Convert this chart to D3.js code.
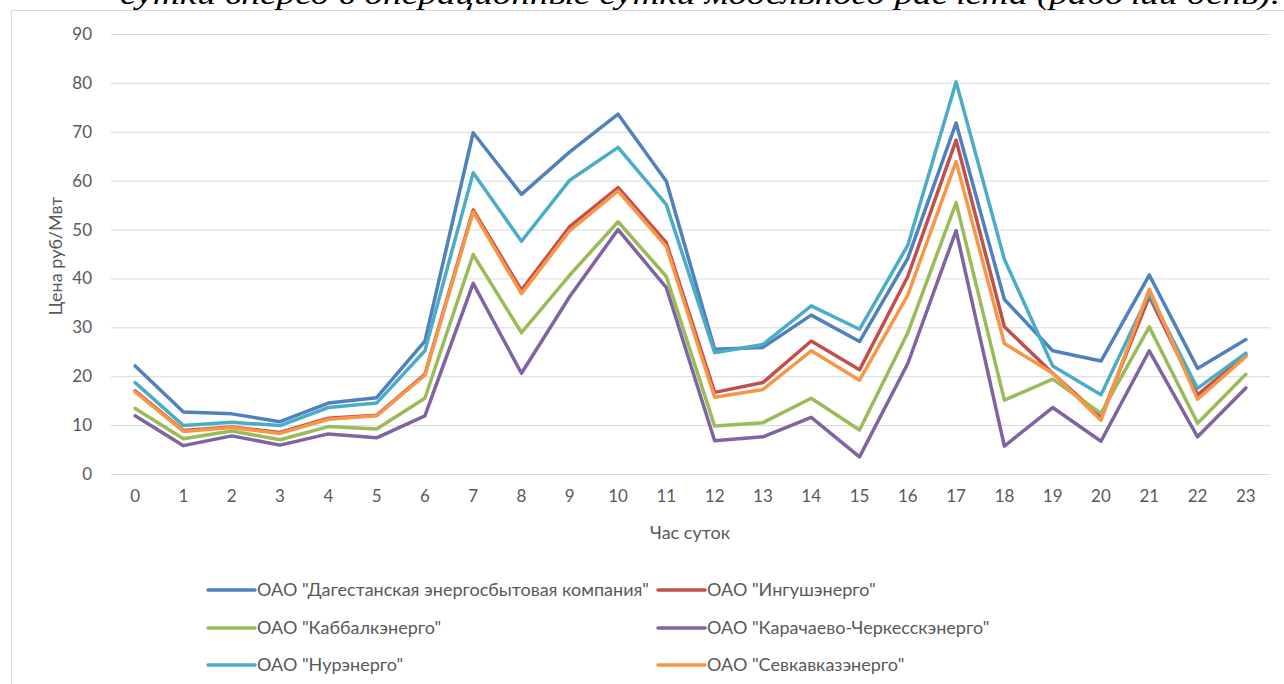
<!DOCTYPE html>
<html><head><meta charset="utf-8">
<script src="https://cdn.jsdelivr.net/npm/d3@7/dist/d3.min.js"></script>
<style>
html,body{margin:0;padding:0;background:#fff;overflow:hidden}
svg{display:block}
</style></head>
<body>
<svg id="chart" width="1284" height="684"></svg>
<script>
const hours = d3.range(0, 24);
const yTicks = [0,10,20,30,40,50,60,70,80,90];
const seriesNames = [
  'ОАО "Дагестанская энергосбытовая компания"',
  'ОАО "Ингушэнерго"',
  'ОАО "Каббалкэнерго"',
  'ОАО "Карачаево-Черкесскэнерго"',
  'ОАО "Нурэнерго"',
  'ОАО "Севкавказэнерго"'
];
const seriesColors = ["#4F81BD","#C0504D","#9BBB59","#8064A2","#4BACC6","#F79646"];
const dagestan = [22.1,12.7,12.3,10.7,14.5,15.6,27.2,69.8,57.2,65.9,73.6,59.9,25.5,25.9,32.5,27.1,44.1,71.8,35.7,25.2,23.1,40.7,21.6,27.5];
const ingush   = [17.0,8.9,9.6,8.5,11.4,12.0,20.4,54.0,37.6,50.6,58.6,47.3,16.7,18.7,27.2,21.3,40.4,68.3,30.1,20.6,11.7,36.3,16.2,24.3];
const kabbalk  = [13.4,7.2,8.8,7.0,9.7,9.2,15.5,44.9,28.9,40.7,51.6,40.4,9.8,10.5,15.5,9.0,28.9,55.5,15.1,19.4,12.4,30.1,10.4,20.4];
const karach   = [11.9,5.8,7.8,5.9,8.2,7.4,11.9,39.0,20.6,36.3,50.0,38.1,6.8,7.6,11.6,3.5,22.6,49.8,5.7,13.6,6.7,25.2,7.6,17.6];
const nur      = [18.7,9.9,10.6,9.9,13.6,14.5,25.2,61.6,47.6,60.1,66.8,55.1,24.8,26.5,34.4,29.6,46.8,80.2,43.9,22.1,16.2,36.9,17.5,24.7];
const sevkav   = [16.8,8.7,9.5,8.3,11.2,11.9,20.2,53.6,36.9,49.8,57.9,46.5,15.7,17.3,25.2,19.2,36.6,63.9,26.7,20.6,11.0,37.8,15.3,24.0];
const seriesValues = [dagestan, ingush, kabbalk, karach, nur, sevkav];
const topText = "сутки вперед в операционные сутки модельного расчета (рабочий день).";
const yTitle = "Цена руб/Мвт";
const xTitle = "Час суток";

const svg = d3.select("#chart");
const font = "Lato, 'Open Sans', sans-serif";
const grey = "#595959";

// top cut-off document text
svg.append("text").attr("x",120).attr("y",4)
  .attr("font-family","'Liberation Serif', 'DejaVu Serif', serif")
  .attr("font-style","italic").attr("font-size",30).attr("fill","#000")
  .attr("textLength",1160).attr("lengthAdjust","spacingAndGlyphs")
  .text(topText);

// chart frame
svg.append("rect").attr("x",11.5).attr("y",10.5).attr("width",1290).attr("height",700)
  .attr("fill","none").attr("stroke","#d9d9d9").attr("stroke-width",1);

const x = d3.scaleBand().domain(hours).range([111,1270]);
const y = d3.scaleLinear().domain([0,90]).range([474,34]);
const cx = h => x(h) + x.bandwidth()/2;

// gridlines
const yAxis = d3.axisLeft(y).tickValues(yTicks).tickSize(-(1270-111)).tickPadding(19);
const gy = svg.append("g").attr("transform","translate(111,0)").call(yAxis);
gy.select(".domain").remove();
gy.selectAll(".tick line").attr("stroke","#d9d9d9").attr("stroke-width",1);
gy.selectAll(".tick text").attr("fill",grey).attr("font-family",font).attr("font-size",17);

const xAxis = d3.axisBottom(x).tickSize(0).tickPadding(16);
const gx = svg.append("g").attr("transform","translate(0,474)").call(xAxis);
gx.select(".domain").remove();
gx.selectAll(".tick text").attr("fill",grey).attr("font-family",font).attr("font-size",17);

// lines
const line = d3.line().x((d,i)=>cx(hours[i])).y(d=>y(d));
seriesValues.forEach((vals,i)=>{
  svg.append("path").datum(vals).attr("d",line)
    .attr("fill","none").attr("stroke",seriesColors[i]).attr("stroke-width",3.5)
    .attr("stroke-linejoin","round").attr("stroke-linecap","round");
});

// axis titles
svg.append("text").attr("transform","translate(62,256) rotate(-90)")
  .attr("text-anchor","middle").attr("fill",grey).attr("font-family",font).attr("font-size",18)
  .text(yTitle);
svg.append("text").attr("x",690).attr("y",539)
  .attr("text-anchor","middle").attr("fill",grey).attr("font-family",font).attr("font-size",18)
  .text(xTitle);

// legend
const legX = [208, 658], legY = [590, 628, 665];
seriesNames.forEach((name,i)=>{
  const lx = legX[i%2], ly = legY[Math.floor(i/2)];
  svg.append("line").attr("x1",lx).attr("x2",lx+47).attr("y1",ly).attr("y2",ly)
    .attr("stroke",seriesColors[i]).attr("stroke-width",3.5).attr("stroke-linecap","round");
  svg.append("text").attr("x",lx+49).attr("y",ly+6)
    .attr("fill",grey).attr("font-family",font).attr("font-size",18)
    .text(name);
});
</script>
</body></html>
